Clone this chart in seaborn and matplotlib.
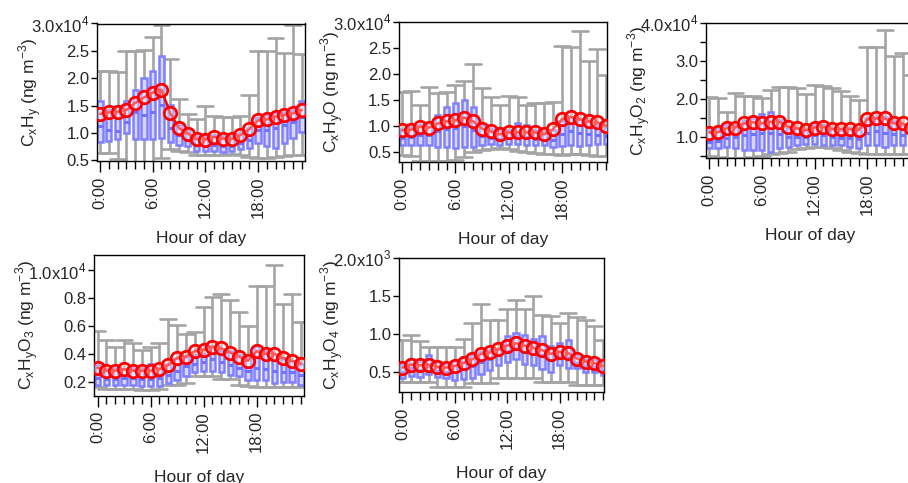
import numpy as np
import pandas as pd
import seaborn as sns
import matplotlib.pyplot as plt
from matplotlib.ticker import MultipleLocator, FuncFormatter

hours = list(range(24))
hour_ticks = [0, 6, 12, 18]
hour_labels = ['0:00', '6:00', '12:00', '18:00']

# CxHy (x1e4 ng m-3)
cxhy_mean = [1.35, 1.38, 1.39, 1.42, 1.55, 1.65, 1.74, 1.79, 1.36, 1.09, 0.99, 0.89,
             0.88, 0.93, 0.90, 0.89, 0.96, 1.07, 1.23, 1.25, 1.30, 1.33, 1.36, 1.42]
cxhy_p5 = [0.63, 0.63, 0.52, 0.48, 0.48, 0.48, 0.47, 0.55, 0.70, 0.68, 0.66, 0.60,
           0.60, 0.60, 0.60, 0.62, 0.60, 0.57, 0.55, 0.55, 0.56, 0.58, 0.60, 0.60]
cxhy_p25 = [0.83, 0.86, 0.90, 1.00, 0.90, 0.89, 0.89, 0.91, 0.83, 0.79, 0.76, 0.67,
            0.67, 0.67, 0.65, 0.67, 0.70, 0.73, 0.82, 0.76, 0.73, 0.82, 0.91, 1.02]
cxhy_med = [1.12, 1.06, 1.03, 1.21, 1.39, 1.33, 1.39, 1.52, 1.09, 0.97, 0.88, 0.79,
            0.76, 0.78, 0.76, 0.77, 0.82, 0.88, 1.05, 1.05, 1.09, 1.15, 1.21, 1.30]
cxhy_p75 = [1.58, 1.42, 1.50, 1.59, 1.79, 2.01, 2.13, 2.41, 1.52, 1.15, 1.03, 0.94,
            0.92, 0.97, 0.94, 0.94, 1.00, 1.09, 1.27, 1.33, 1.36, 1.39, 1.42, 1.59]
cxhy_p95 = [2.14, 2.14, 2.12, 2.50, 2.50, 2.52, 2.76, 2.97, 2.35, 1.62, 1.35, 1.25,
            1.50, 1.32, 1.30, 1.30, 1.32, 1.70, 2.49, 2.50, 2.74, 2.46, 2.97, 2.45]

# CxHyO (x1e4 ng m-3)
cxhyo_mean = [0.92, 0.93, 0.99, 0.97, 1.05, 1.09, 1.11, 1.16, 1.09, 0.95, 0.90, 0.84,
              0.88, 0.88, 0.88, 0.88, 0.84, 0.94, 1.13, 1.18, 1.13, 1.09, 1.07, 1.00]
cxhyo_p5 = [0.44, 0.42, 0.33, 0.33, 0.33, 0.33, 0.35, 0.40, 0.50, 0.54, 0.56, 0.57,
            0.56, 0.52, 0.50, 0.48, 0.47, 0.46, 0.45, 0.46, 0.46, 0.44, 0.43, 0.42]
cxhyo_p25 = [0.64, 0.63, 0.64, 0.63, 0.60, 0.59, 0.57, 0.59, 0.60, 0.63, 0.66, 0.64,
             0.66, 0.66, 0.63, 0.63, 0.64, 0.59, 0.62, 0.63, 0.62, 0.64, 0.66, 0.66]
cxhyo_med = [0.78, 0.79, 0.82, 0.82, 0.90, 0.95, 0.97, 1.00, 0.92, 0.80, 0.78, 0.76,
             0.77, 0.80, 0.79, 0.76, 0.74, 0.73, 0.85, 0.90, 0.87, 0.85, 0.82, 0.80]
cxhyo_p75 = [0.95, 0.98, 1.02, 1.05, 1.22, 1.37, 1.45, 1.51, 1.37, 1.02, 0.95, 0.92,
             0.92, 1.05, 1.02, 0.92, 0.89, 0.92, 1.09, 1.18, 1.14, 1.09, 1.02, 0.99]
cxhyo_p95 = [1.66, 1.67, 1.40, 1.76, 1.63, 1.66, 1.79, 1.87, 2.19, 1.74, 1.55, 1.41,
             1.58, 1.56, 1.41, 1.45, 1.45, 1.47, 2.54, 2.52, 2.82, 2.26, 2.48, 1.98]

# CxHyO2 (x1e4 ng m-3)
cxhyo2_mean = [1.12, 1.13, 1.23, 1.25, 1.36, 1.39, 1.36, 1.40, 1.40, 1.27, 1.23, 1.18,
               1.25, 1.27, 1.21, 1.21, 1.21, 1.18, 1.47, 1.49, 1.49, 1.36, 1.36, 1.23]
cxhyo2_p5 = [0.50, 0.48, 0.45, 0.45, 0.45, 0.48, 0.50, 0.55, 0.58, 0.62, 0.68, 0.72,
             0.75, 0.74, 0.70, 0.66, 0.62, 0.58, 0.55, 0.56, 0.56, 0.55, 0.55, 0.55]
cxhyo2_p25 = [0.72, 0.72, 0.75, 0.72, 0.66, 0.66, 0.66, 0.62, 0.70, 0.75, 0.79, 0.83,
              0.83, 0.79, 0.79, 0.79, 0.75, 0.72, 0.79, 0.79, 0.75, 0.79, 0.79, 0.75]
cxhyo2_med = [0.88, 0.90, 0.98, 1.00, 1.05, 1.08, 1.10, 1.12, 1.08, 1.00, 1.00, 1.00,
              1.05, 1.05, 1.00, 0.98, 0.98, 0.96, 1.12, 1.15, 1.12, 1.08, 1.05, 0.95]
cxhyo2_p75 = [1.18, 1.23, 1.32, 1.32, 1.41, 1.50, 1.60, 1.67, 1.45, 1.23, 1.23, 1.18,
              1.32, 1.32, 1.23, 1.18, 1.23, 1.23, 1.50, 1.54, 1.54, 1.41, 1.32, 1.18]
cxhyo2_p95 = [2.06, 2.04, 1.65, 2.15, 2.09, 2.09, 2.04, 2.24, 2.32, 2.32, 2.30, 2.13,
              2.37, 2.35, 2.28, 2.21, 2.09, 1.97, 3.36, 3.36, 3.82, 3.14, 3.20, 2.63]

# CxHyO3 (x1e4 ng m-3)
cxhyo3_mean = [0.30, 0.28, 0.28, 0.29, 0.28, 0.28, 0.28, 0.29, 0.32, 0.37, 0.38, 0.42,
               0.43, 0.45, 0.44, 0.41, 0.38, 0.35, 0.42, 0.40, 0.40, 0.37, 0.35, 0.33]
cxhyo3_p5 = [0.16, 0.15, 0.15, 0.15, 0.15, 0.14, 0.14, 0.15, 0.18, 0.18, 0.19, 0.24,
             0.24, 0.24, 0.22, 0.22, 0.18, 0.17, 0.16, 0.16, 0.16, 0.16, 0.16, 0.16]
cxhyo3_p25 = [0.18, 0.18, 0.18, 0.18, 0.18, 0.17, 0.17, 0.17, 0.19, 0.21, 0.24, 0.27,
              0.28, 0.28, 0.27, 0.25, 0.24, 0.21, 0.21, 0.21, 0.19, 0.20, 0.20, 0.18]
cxhyo3_med = [0.23, 0.22, 0.22, 0.23, 0.23, 0.22, 0.22, 0.23, 0.25, 0.28, 0.31, 0.33,
              0.34, 0.36, 0.34, 0.32, 0.30, 0.28, 0.30, 0.29, 0.28, 0.27, 0.27, 0.25]
cxhyo3_p75 = [0.32, 0.29, 0.30, 0.29, 0.30, 0.30, 0.33, 0.30, 0.33, 0.37, 0.38, 0.39,
              0.40, 0.46, 0.42, 0.42, 0.39, 0.37, 0.46, 0.42, 0.40, 0.37, 0.35, 0.33]
cxhyo3_p95 = [0.565, 0.50, 0.45, 0.50, 0.48, 0.43, 0.45, 0.48, 0.65, 0.61, 0.54, 0.56,
              0.74, 0.81, 0.83, 0.79, 0.70, 0.60, 0.89, 0.89, 1.04, 0.76, 0.83, 0.63]

# CxHyO4 (x1e3 ng m-3)
cxhyo4_mean = [0.56, 0.60, 0.59, 0.60, 0.57, 0.56, 0.58, 0.62, 0.67, 0.74, 0.76, 0.80,
               0.85, 0.88, 0.85, 0.82, 0.79, 0.74, 0.77, 0.75, 0.68, 0.64, 0.62, 0.58]
cxhyo4_p5 = [0.37, 0.37, 0.37, 0.37, 0.31, 0.31, 0.30, 0.31, 0.36, 0.36, 0.36, 0.43,
             0.43, 0.43, 0.43, 0.43, 0.37, 0.37, 0.37, 0.37, 0.33, 0.33, 0.33, 0.33]
cxhyo4_p25 = [0.42, 0.45, 0.44, 0.48, 0.44, 0.42, 0.40, 0.41, 0.43, 0.48, 0.53, 0.59,
              0.63, 0.67, 0.61, 0.59, 0.54, 0.50, 0.59, 0.56, 0.55, 0.50, 0.50, 0.46]
cxhyo4_med = [0.50, 0.55, 0.53, 0.58, 0.52, 0.50, 0.50, 0.54, 0.58, 0.64, 0.68, 0.72,
              0.78, 0.82, 0.77, 0.74, 0.72, 0.66, 0.70, 0.70, 0.62, 0.58, 0.57, 0.53]
cxhyo4_p75 = [0.61, 0.67, 0.65, 0.72, 0.63, 0.61, 0.65, 0.70, 0.72, 0.77, 0.79, 0.81,
              0.97, 1.02, 0.99, 0.94, 0.97, 0.85, 0.88, 0.92, 0.72, 0.67, 0.67, 0.63]
cxhyo4_p95 = [0.92, 0.99, 0.91, 0.83, 0.83, 0.83, 0.83, 0.94, 1.14, 1.40, 1.18, 1.18,
              1.33, 1.45, 1.33, 1.50, 1.25, 1.24, 1.14, 1.28, 1.23, 1.18, 1.11, 0.92]

sns.set_style('ticks')
plt.rcParams['font.family'] = ['Liberation Sans', 'DejaVu Sans']
plt.rcParams['axes.unicode_minus'] = True

W, H = 908, 483
fig = plt.figure(figsize=(W / 100, H / 100), dpi=100)

# (ylabel, stats, exponent, ylim, major step, minor step, axes box in px (l, t, r, b), xlim)
panels = [
    (r'C$_\mathregular{x}$H$_\mathregular{y}$',
     (cxhy_mean, cxhy_p5, cxhy_p25, cxhy_med, cxhy_p75, cxhy_p95), 4,
     (0.49, 3.0), 0.5, None, (97, 23.5, 304.5, 161), (-0.35, 23.3)),
    (r'C$_\mathregular{x}$H$_\mathregular{y}$O',
     (cxhyo_mean, cxhyo_p5, cxhyo_p25, cxhyo_med, cxhyo_p75, cxhyo_p95), 4,
     (0.31, 3.0), 0.5, None, (398.7, 22, 606.7, 162), (-0.4, 23.05)),
    (r'C$_\mathregular{x}$H$_\mathregular{y}$O$_\mathregular{2}$',
     (cxhyo2_mean, cxhyo2_p5, cxhyo2_p25, cxhyo2_med, cxhyo2_p75, cxhyo2_p95), 4,
     (0.45, 4.0), 1.0, 0.5, (706, 23, 914, 158), (-0.35, 23.3)),
    (r'C$_\mathregular{x}$H$_\mathregular{y}$O$_\mathregular{3}$',
     (cxhyo3_mean, cxhyo3_p5, cxhyo3_p25, cxhyo3_med, cxhyo3_p75, cxhyo3_p95), 4,
     (0.10, 1.11), 0.2, None, (94, 255, 304, 395.7), (-0.4, 23.35)),
    (r'C$_\mathregular{x}$H$_\mathregular{y}$O$_\mathregular{4}$',
     (cxhyo4_mean, cxhyo4_p5, cxhyo4_p25, cxhyo4_med, cxhyo4_p75, cxhyo4_p95), 3,
     (0.24, 2.0), 0.5, None, (399, 258, 604, 392), (-0.4, 23.1)),
]

box_face = '#d6d6ff'
box_edge = '#8080ff'
whisk_col = '#a4a4a4'


def top_formatter(top, exp):
    def f(v, pos):
        if abs(v - top) < 1e-6:
            return f'{v:.1f}x10$^\\mathregular{{{exp}}}$'
        return f'{v:.1f}'
    return FuncFormatter(f)


for name, stats, exp, ylim, major, minor, (l, t, r, b), xlim in panels:
    mean, p5, p25, med, p75, p95 = stats
    ax = fig.add_axes([l / W, 1 - b / H, (r - l) / W, (b - t) / H])

    # five summary values per hour -> quartiles come out exactly, whiskers at min/max
    df = pd.DataFrame({
        'hour': [h for h in hours for _ in range(5)],
        'value': [v for i in range(24) for v in (p5[i], p25[i], med[i], p75[i], p95[i])],
    })
    sns.boxplot(data=df, x='hour', y='value', ax=ax, native_scale=True,
                whis=(0, 100), width=0.6, showfliers=False,
                boxprops=dict(facecolor=box_face, edgecolor=box_edge, linewidth=1.8, zorder=2),
                medianprops=dict(color='#7272ff', linewidth=2.2, zorder=2.1),
                whiskerprops=dict(color=whisk_col, linewidth=1.9, zorder=1.5),
                capprops=dict(color=whisk_col, linewidth=1.9, zorder=1.5, gid='cap'))

    # wide whisker caps
    for ln in ax.lines:
        if ln.get_gid() == 'cap':
            xs = ln.get_xdata()
            c = (xs[0] + xs[1]) / 2
            ln.set_xdata([c - 0.9, c + 0.9])

    sns.lineplot(x=hours, y=mean, ax=ax, color='red', linewidth=1.8, errorbar=None,
                 marker='o', markersize=9, markeredgecolor='red', markeredgewidth=2,
                 markerfacecolor=(1, 1, 1, 0.35), zorder=5)

    ax.set_xlim(*xlim)
    ax.set_ylim(*ylim)
    ax.set_xticks(hour_ticks)
    ax.set_xticklabels(hour_labels, rotation=90)
    ax.xaxis.set_minor_locator(MultipleLocator(1))
    ax.yaxis.set_major_locator(MultipleLocator(major))
    if minor:
        ax.yaxis.set_minor_locator(MultipleLocator(minor))
    ax.yaxis.set_major_formatter(top_formatter(ylim[1] if ylim[1] % major < 1e-6 else 1.0, exp))

    ax.tick_params(axis='x', which='major', length=8, width=1, labelsize=12, pad=3, color='black')
    ax.tick_params(axis='x', which='minor', length=6, width=1, color='black')
    ax.tick_params(axis='y', which='both', length=4, width=1, labelsize=12, pad=1.5, color='black')
    for sp in ax.spines.values():
        sp.set_visible(True)
        sp.set_color('black')
        sp.set_linewidth(1)

    ax.set_xlabel('Hour of day', fontsize=12.5)
    ax.xaxis.set_label_coords(0.5, -(70 if t < 200 else 74) / (b - t))
    ax.set_ylabel(name + r' (ng m$^\mathregular{-3}$)', fontsize=12.5)
    ax.yaxis.set_label_coords(-53 / (r - l), 0.5)

fig.savefig('out.png', dpi=100)
